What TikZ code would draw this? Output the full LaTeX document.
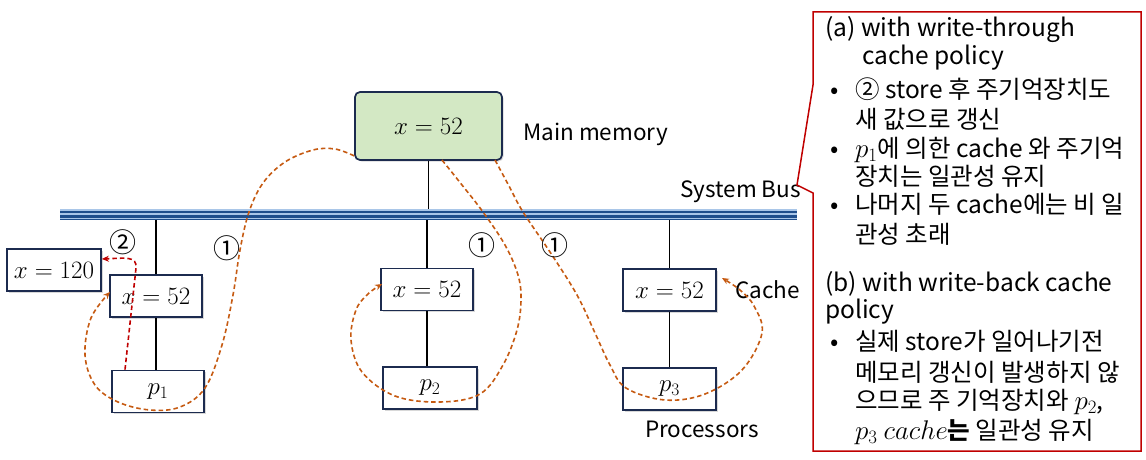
\documentclass[tikz,border=0pt]{standalone}
\usepackage{fix-cm}
\usepackage{fontspec}
\setmainfont{Noto Sans CJK KR}
\usetikzlibrary{arrows.meta,shadows}
\definecolor{bord}{HTML}{1C2B4F}
\definecolor{memfill}{HTML}{D3E8C4}
\definecolor{busdark}{HTML}{1F4E8C}
\definecolor{buslight}{HTML}{A9C6E8}
\definecolor{flow}{HTML}{C65A11}
\definecolor{redflow}{HTML}{C00000}
\definecolor{callred}{HTML}{C00000}
\newcommand{\calmath}[1]{{\fontsize{27}{28}\selectfont$#1$}}
\begin{document}
\begin{tikzpicture}[x=1pt,y=-1pt,
  boxn/.style={draw=bord, line width=1.7pt, fill=white, inner sep=0pt,
    minimum width=92pt, minimum height=42pt,
    drop shadow={shadow xshift=1.5pt, shadow yshift=-1.5pt, fill=black!30},
    font=\fontsize{25}{28}\selectfont},
  memn/.style={boxn, fill=memfill, rounded corners=5pt, minimum width=147pt, minimum height=68pt},
  lbl/.style={inner sep=0pt, anchor=base west, font=\fontsize{22.5}{26}\selectfont},
  circnum/.style={inner sep=0pt, font=\fontsize{27}{28}\selectfont},
  ctext/.style={inner sep=0pt, anchor=base west, font=\fontsize{24.5}{28}\selectfont},
  wire/.style={line width=1.3pt, black},
  flowline/.style={flow, line width=1.6pt, dash pattern=on 4.5pt off 3pt, -{Stealth[length=7pt,width=6pt]}},
  redline/.style={redflow, line width=1.6pt, dash pattern=on 4.5pt off 3pt, -{Stealth[length=7pt,width=6pt]}}
]
\useasboundingbox[fill=white] (0,0) rectangle (1146,460);

% nodes
\node[memn] (mm) at (428.5,126) {$x=52$};
\node[boxn] (c1) at (156,296) {$x=52$};
\node[boxn, minimum width=94pt] (x1) at (54,270) {$x=120$};
\node[boxn] (p1) at (158,391.5) {$p_1$};
\node[boxn] (c2) at (427,289.5) {$x=52$};
\node[boxn, minimum width=94pt] (p2) at (430,388) {$p_2$};
\node[boxn, minimum width=93pt] (c3) at (669.5,290) {$x=52$};
\node[boxn, minimum width=93pt] (p3) at (669.5,389) {$p_3$};

% bus
\coordinate (busL) at (60,214);
\coordinate (busR) at (797,214);

% wires
\draw[wire] (mm.south) -- (mm.south |- busL);
\draw[wire] (c1.north) -- (c1.north |- busL);
\draw[wire] (c2.north) -- (c2.north |- busL);
\draw[wire] (c3.north) -- (c3.north |- busL);
\draw[wire] (c1.south) -- (c1.south |- p1.north);
\draw[wire] (c2.south) -- (c2.south |- p2.north);
\draw[wire] (c3.south) -- (c3.south |- p3.north);

% bus drawing
\fill[buslight] ([yshift=5.5pt]busL) rectangle ([yshift=-6pt]busR);
\draw[busdark, line width=2.4pt] ([yshift=2.3pt]busL) -- ([yshift=2.3pt]busR);
\draw[busdark, line width=3pt] ([yshift=-2pt]busL) -- ([yshift=-2pt]busR);
\draw[busdark, line width=1.4pt] ([yshift=-5.5pt]busL) -- ([yshift=-5.5pt]busR);

% labels
\node[lbl] (lmm) at (523,140) {Main memory};
\node[lbl] (lbus) at (680,197) {System Bus};
\node[lbl] (lcache) at (735,298) {Cache};
\node[lbl] (lproc) at (645,437) {Processors};

% flows
\draw[flowline] plot[smooth, tension=0.6] coordinates {
  ([yshift=5pt]mm.south west) (335,149) (313,150) (285,162) (263,183) (249,212)
  (240,250) (233,295) (222,345) (205,388) (180,407) (150,410) (118,402)
  (95,385) (85,355) (91,318) (110,292)};
\draw[redline] ([xshift=-33pt]p1.north) -- (136,268) .. controls (137,256) and (126,258) .. (x1.east |- 0,259);
\draw[flowline] plot[smooth, tension=0.6] coordinates {
  (442,160) (462,185) (483,212) (505,245) (518,275) (521,300) (517,330)
  (503,365) (480,394) (440,402) (395,396) (362,372) (351,340) (356,310) (368,294) (382,284)};
\draw[flowline] plot[smooth, tension=0.6] coordinates {
  (495,160) (509,186) (523,212) (550,252) (577,295) (595,333) (610,365)
  (626,388) (665,400) (705,394) (742,370) (762,333) (754,306) (740,290) (722,278)};

% circled numbers
\node[circnum] (n2) at (123,242) {②};
\node[circnum] (n1a) at (227,248) {①};
\node[circnum] (n1b) at (482,245) {①};
\node[circnum] (n1c) at (555,245) {①};

% callout
\draw[callred, line width=1.5pt] (813,12) -- (1141,12) -- (1141,451) -- (813,451)
  -- (813,193) -- (797,185) -- (813,85) -- cycle;

\node[ctext] (t1) at (825,37) {(a) with write-through};
\node[ctext] (t2) at (862,65) {cache policy};
\node[ctext] (b1) at (830,98) {•};
\node[ctext] (t3) at (855,98) {② store 후 주기억장치도};
\node[ctext] (t4) at (855,128) {새 값으로 갱신};
\node[ctext] (b2) at (830,157) {•};
\node[ctext] (t5) at (855,157) {\calmath{p_1}에 의한 cache 와 주기억};
\node[ctext] (t6) at (855,185) {장치는 일관성 유지};
\node[ctext] (b3) at (830,213) {•};
\node[ctext] (t7) at (855,213) {나머지 두 cache에는 비 일};
\node[ctext] (t8) at (855,243) {관성 초래};
\node[ctext] (t9) at (825,291) {(b) with write-back cache};
\node[ctext] (t10) at (825,318) {policy};
\node[ctext] (b4) at (830,350) {•};
\node[ctext] (t11) at (855,350) {실제 store가 일어나기전};
\node[ctext] (t12) at (855,381) {메모리 갱신이 발생하지 않};
\node[ctext] (t13) at (855,409) {으므로 주 기억장치와 \calmath{p_2},};
\node[ctext] (t14) at (855,439) {\calmath{p_3\ cache}{\bfseries 는} 일관성 유지};
\end{tikzpicture}
\end{document}
